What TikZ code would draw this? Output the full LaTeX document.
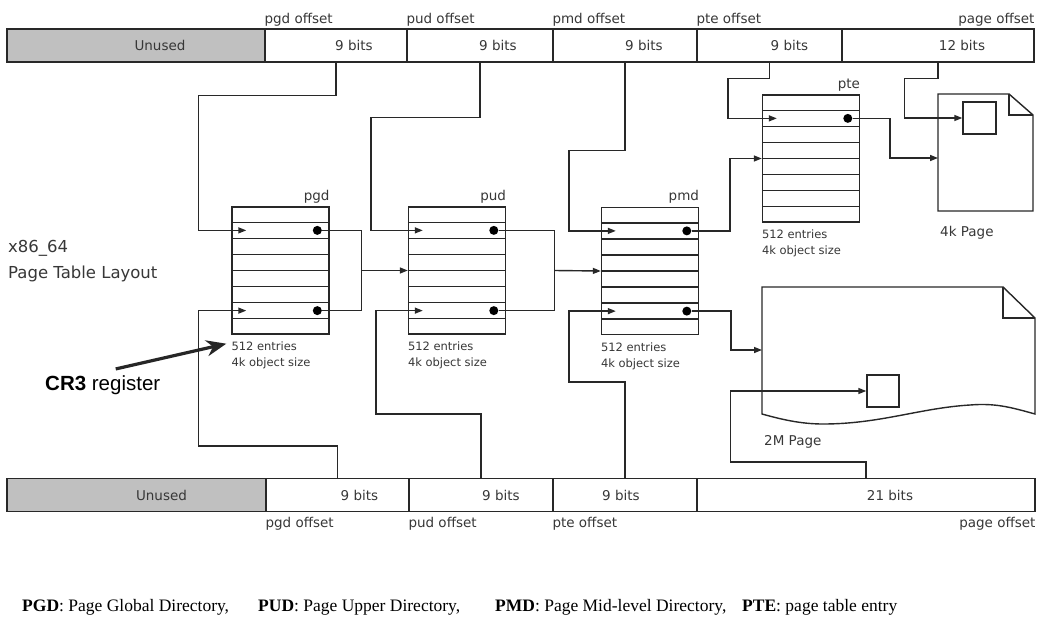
\documentclass[tikz,border=0pt]{standalone}
\usepackage{fontspec}
\setmainfont{DejaVu Sans}
\newfontfamily\arialfont{Liberation Sans}
\newfontfamily\legendfont{Liberation Serif}
\usetikzlibrary{positioning,arrows.meta,calc}
\definecolor{ptLine}{RGB}{40,40,40}
\definecolor{ptText}{RGB}{55,55,55}
\definecolor{ptUnused}{RGB}{192,192,192}
\tikzset{
    base/.style={font=\fontsize{13.5}{16}\selectfont, text=ptText, inner sep=0pt},
    field/.style={rectangle, draw=ptLine, line width=1.4pt, minimum height=33pt, inner sep=0pt},
    unused/.style={field, fill=ptUnused},
    bits/.style={base},
    offs/.style={base},
    tbl/.style={rectangle, draw=ptLine, line width=1.4pt, minimum width=97pt,
                minimum height=127pt, inner sep=0pt},
    tname/.style={base, anchor=south east, yshift=3pt},
    note/.style={base, font=\fontsize{11.5}{16}\selectfont, align=left, anchor=north west},
    wire/.style={draw=ptLine, line width=1.4pt},
    link/.style={wire, -{Triangle[length=8pt,width=6pt]}},
    dot/.style={circle, fill=black, minimum size=9pt, inner sep=0pt},
    cr3arrow/.style={draw=black!85, line width=3.2pt, -{Stealth[length=20pt,width=16pt]}},
    legend/.style={anchor=base west, inner sep=0pt, font=\legendfont\fontsize{17.5}{20}\selectfont}
}

\begin{document}
\begin{tikzpicture}[x=1pt, y=-1pt]
  \useasboundingbox (0,0) rectangle (1046,623);

  % linear address, top
  \node[unused, minimum width=258pt, label={[bits,xshift=24pt]center:Unused}] (tunused) at (136,45.5) {};
  \node[field, minimum width=142pt, label={[bits,xshift=18pt]center:9 bits}] (tpgd) at (336,45.5) {};
  \node[field, minimum width=146pt, label={[bits,xshift=18pt]center:9 bits}] (tpud) at (480,45.5) {};
  \node[field, minimum width=144pt, label={[bits,xshift=19pt]center:9 bits}] (tpmd) at (625,45.5) {};
  \node[field, minimum width=145pt, label={[bits,xshift=20pt]center:9 bits}] (tpte) at (769.5,45.5) {};
  \node[field, minimum width=192pt, label={[bits,xshift=24pt]center:12 bits}] (tpage) at (938,45.5) {};
  \node[offs, anchor=south west, yshift=2pt] at (tpgd.north west) {pgd offset};
  \node[offs, anchor=south west, yshift=2pt] at (tpud.north west) {pud offset};
  \node[offs, anchor=south west, yshift=2pt] at (tpmd.north west) {pmd offset};
  \node[offs, anchor=south west, yshift=2pt] at (tpte.north west) {pte offset};
  \node[offs, anchor=south east, yshift=2pt] at (tpage.north east) {page offset};

  % linear address, bottom (2M page)
  \node[unused, minimum width=259pt, label={[bits,xshift=25pt]center:Unused}] (bunused) at (136.5,495) {};
  \node[field, minimum width=143pt, label={[bits,xshift=22pt]center:9 bits}] (bpgd) at (337.5,495) {};
  \node[field, minimum width=144pt, label={[bits,xshift=20pt]center:9 bits}] (bpud) at (481,495) {};
  \node[field, minimum width=144pt, label={[bits,xshift=-4pt]center:9 bits}] (bpte) at (625,495) {};
  \node[field, minimum width=338pt, label={[bits,xshift=24pt]center:21 bits}] (boff) at (866,495) {};
  \node[offs, anchor=north west, yshift=-5pt] at (bpgd.south west) {pgd offset};
  \node[offs, anchor=north west, yshift=-5pt] at (bpud.south west) {pud offset};
  \node[offs, anchor=north west, yshift=-5pt] at (bpte.south west) {pte offset};
  \node[offs, anchor=north east, yshift=-5pt] at (boff.south east) {page offset};

  % page tables
  \node[tbl] (pgd) at (280.5,270.5) {};
  \node[tbl] (pud) at (457,270.5) {};
  \node[tbl] (pmd) at (650,271) {};
  \node[tbl] (pte) at (811,158.5) {};
  \foreach \t in {pgd,pud,pmd,pte} {
    \foreach \i in {1,...,7}
      \draw[wire] ($(\t.north west)!\i/8!(\t.south west)$) -- ($(\t.north east)!\i/8!(\t.south east)$);
    \path ($(\t.north west)!1.5/8!(\t.south west)$) coordinate (\t-r1);
    \path ($(\t.north west)!6.5/8!(\t.south west)$) coordinate (\t-r6);
    \node[tname] at (\t.north east) {\t};
  }
  \node[note, yshift=-7pt] (pgdnote) at (pgd.south west) {512 entries\\4k object size};
  \node[note, yshift=-7pt] at (pud.south west) {512 entries\\4k object size};
  \node[note, yshift=-7pt] at (pmd.south west) {512 entries\\4k object size};
  \node[note, yshift=-7pt] at (pte.south west) {512 entries\\4k object size};

  \foreach \t in {pgd,pud,pmd} {
    \node[dot] (\t-d1) at ([xshift=86pt]\t-r1) {};
    \node[dot] (\t-d6) at ([xshift=86pt]\t-r6) {};
  }
  \node[dot] (pte-d1) at ([xshift=86pt]pte-r1) {};

  % pages
  \draw[wire] (938,94) -- (1009,94) -- (1033,115) -- (1033,211) -- (938,211) -- cycle;
  \draw[wire] (1009,94) -- (1009,115) -- (1033,115);
  \coordinate (p4k-in) at (938,158);
  \node[field, minimum width=33pt, minimum height=32pt] (sq4k) at (979.5,118) {};
  \node[base, anchor=north west] at (940,226) {4k Page};

  \draw[wire] (762,287) -- (1003,287) -- (1035,318) -- (1035,414)
    .. controls (1010,407) and (995,403) .. (970,405)
    .. controls (920,408) and (880,424) .. (823,424)
    .. controls (800,424) and (780,419) .. (762,414) -- cycle;
  \draw[wire] (1003,287) -- (1003,318) -- (1035,318);
  \coordinate (p2m-in) at (762,350);
  \node[field, minimum width=32pt, minimum height=32pt] (sq2m) at (883,391) {};
  \node[base, anchor=north west] at (764,435) {2M Page};

  % top offsets into the tables
  \draw[link] (tpgd.south) -- ++(0,33) -| ([xshift=-33pt]pgd-r1) -- ([xshift=15pt]pgd-r1);
  \draw[link] (tpud.south) -- ++(0,55) -| ([xshift=-37pt]pud-r1) -- ([xshift=15pt]pud-r1);
  \draw[link] (tpmd.south) -- ++(0,88) -| ([xshift=-32pt]pmd-r1) -- ([xshift=15pt]pmd-r1);
  \draw[link] (tpte.south) -- ++(0,16) -| ([xshift=-34pt]pte-r1) -- ([xshift=15pt]pte-r1);
  \draw[link] (tpage.south) -- ++(0,16) -| ([xshift=-58pt]sq4k.west) -- (sq4k.west);

  % bottom offsets into the tables
  \draw[link] (bpgd.north) -- ++(0,-32) -| ([xshift=-33pt]pgd-r6) -- ([xshift=15pt]pgd-r6);
  \draw[link] (bpud.north) -- ++(0,-64) -| ([xshift=-32pt]pud-r6) -- ([xshift=15pt]pud-r6);
  \draw[link] (bpte.north) -- ++(0,-96) -| ([xshift=-32pt]pmd-r6) -- ([xshift=15pt]pmd-r6);
  \draw[link] (boff.north) -- ++(0,-16) -| ([xshift=-136pt]sq2m.west) -- (sq2m.west);

  % table to table
  \draw[wire] (pgd-d1) -| ([xshift=32pt]pgd.east) |- (pgd-d6);
  \draw[link] ([xshift=32pt]pgd.east) -- (pud.west);
  \draw[wire] (pud-d1) -| ([xshift=48pt]pud.east) |- (pud-d6);
  \draw[link] ([xshift=48pt]pud.east) -- (pmd.west);
  \draw[link] (pmd-d1) -| ([xshift=-32pt]pte.west) -- (pte.west);
  \draw[link] (pmd-d6) -| ([xshift=-31pt]p2m-in) -- (p2m-in);
  \draw[link] (pte-d1) -| ([xshift=-48pt]p4k-in) -- (p4k-in);

  % labels
  \node[base, font=\fontsize{16.5}{26}\selectfont, align=left, anchor=north west] (title) at (8,240) {x86\_64\\Page Table Layout};
  \node[anchor=base west, inner sep=0pt, font=\arialfont\fontsize{20.5}{24}\selectfont] (cr3) at (45,390) {\textbf{CR3} register};
  \draw[cr3arrow] ([xshift=13pt,yshift=6pt]cr3.north) -- ([xshift=-5pt,yshift=-2pt]pgdnote.north west);

  % legend
  \node[legend] (lgpgd) at (22,611) {\textbf{PGD}: Page Global Directory,};
  \node[legend] (lgpud) at (258,611) {\textbf{PUD}: Page Upper Directory,};
  \node[legend] (lgpmd) at (495,611) {\textbf{PMD}: Page Mid-level Directory,};
  \node[legend] (lgpte) at (742,611) {\textbf{PTE}: page table entry};
\end{tikzpicture}
\end{document}
